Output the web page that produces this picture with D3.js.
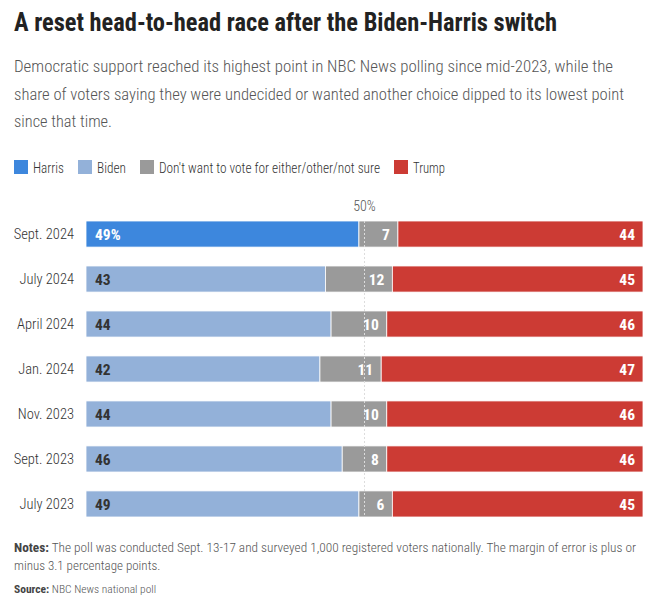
<!DOCTYPE html>
<html>
<head>
<meta charset="utf-8">
<script src="https://cdn.jsdelivr.net/npm/d3@7"></script>
<style>
  body { margin: 0; background: #fff; }
  svg text { font-family: "Roboto Condensed", "Liberation Sans Narrow", "DejaVu Sans Condensed", sans-serif; }
</style>
</head>
<body>
<svg id="chart" width="650" height="606"></svg>
<script>
"use strict";

var polls = ["Sept. 2024", "July 2024", "April 2024", "Jan. 2024", "Nov. 2023", "Sept. 2023", "July 2023"];
var democrat = [49, 43, 44, 42, 44, 46, 49];
var democratName = ["Harris", "Biden", "Biden", "Biden", "Biden", "Biden", "Biden"];
var neither = [7, 12, 10, 11, 10, 8, 6];
var trump = [44, 45, 46, 47, 46, 46, 45];
var legendNames = ["Harris", "Biden", "Don't want to vote for either/other/not sure", "Trump"];

var colors = {
  Harris: "#3d87dd",
  Biden: "#93b1d9",
  neither: "#9a9a9a",
  Trump: "#cc3b34"
};

var svg = d3.select("#chart");

// heading (text widths pinned to the narrower original face)
svg.append("text")
  .attr("x", 14).attr("y", 31)
  .attr("font-size", 25).attr("font-weight", "bold").attr("fill", "#222")
  .attr("textLength", 543).attr("lengthAdjust", "spacingAndGlyphs")
  .text("A reset head-to-head race after the Biden-Harris switch");

var subLines = [
  "Democratic support reached its highest point in NBC News polling since mid-2023, while the",
  "share of voters saying they were undecided or wanted another choice dipped to its lowest point",
  "since that time."
];
var subWidths = [599, 610, 98];
svg.append("g").selectAll("text").data(subLines).enter()
  .append("text")
  .attr("x", 14)
  .attr("y", function(d, i) { return 72 + i * 27.5; })
  .attr("font-size", 16.5).attr("font-weight", 300).attr("fill", "#555")
  .attr("textLength", function(d, i) { return subWidths[i]; })
  .attr("lengthAdjust", "spacingAndGlyphs")
  .text(function(d) { return d; });

// legend
var legendColors = [colors.Harris, colors.Biden, colors.neither, colors.Trump];
var legendWidths = [31, 29, 221, 32];
var lx = 14;
var legend = svg.append("g");
legendNames.forEach(function(name, i) {
  legend.append("rect")
    .attr("x", lx).attr("y", 160).attr("width", 14).attr("height", 14)
    .attr("fill", legendColors[i]);
  legend.append("text")
    .attr("x", lx + 19).attr("y", 172.5)
    .attr("font-size", 14.5).attr("font-weight", 300).attr("fill", "#333")
    .attr("textLength", legendWidths[i]).attr("lengthAdjust", "spacingAndGlyphs")
    .text(name);
  lx += 19 + legendWidths[i] + 14;
});

// bars
var x = d3.scaleLinear().domain([0, 100]).range([86, 643]);
var y = d3.scaleBand().domain(polls).range([212, 526]).paddingInner(0.42).paddingOuter(0.2);

var rows = polls.map(function(p, i) {
  return {
    poll: p,
    segs: [
      { key: democratName[i], x0: 0, x1: democrat[i], v: democrat[i] },
      { key: "neither", x0: democrat[i], x1: democrat[i] + neither[i], v: neither[i] },
      { key: "Trump", x0: democrat[i] + neither[i], x1: 100, v: trump[i] }
    ]
  };
});

var row = svg.append("g").selectAll("g").data(rows).enter()
  .append("g")
  .attr("transform", function(d) { return "translate(0," + y(d.poll) + ")"; });

row.selectAll("rect").data(function(d) { return d.segs; }).enter()
  .append("rect")
  .attr("x", function(d) { return x(d.x0); })
  .attr("width", function(d) { return x(d.x1) - x(d.x0); })
  .attr("height", y.bandwidth())
  .attr("fill", function(d) { return colors[d.key]; })
  .attr("stroke", "#fff").attr("stroke-width", 0.8);

row.append("text")
  .attr("x", 74).attr("y", y.bandwidth() / 2).attr("dy", "0.35em")
  .attr("text-anchor", "end").attr("font-size", 14.5).attr("font-weight", 300).attr("fill", "#333")
  .text(function(d) { return d.poll; });

// 50% marker
svg.append("line")
  .attr("x1", x(50)).attr("x2", x(50))
  .attr("y1", y(polls[0])).attr("y2", y(polls[polls.length - 1]) + y.bandwidth())
  .attr("stroke", "#ddd").attr("stroke-width", 1).attr("stroke-dasharray", "2,2");

svg.append("text")
  .attr("x", x(50)).attr("y", 211)
  .attr("text-anchor", "middle").attr("font-size", 14).attr("font-weight", 300).attr("fill", "#555")
  .text("50%");

// value labels, drawn over the marker
var labels = svg.append("g").selectAll("g").data(rows).enter()
  .append("g")
  .attr("transform", function(d) { return "translate(0," + y(d.poll) + ")"; });

labels.selectAll("text").data(function(d) { return d.segs; }).enter()
  .append("text")
  .attr("x", function(d, i) { return i === 0 ? x(d.x0) + 9 : x(d.x1) - 8; })
  .attr("y", y.bandwidth() / 2).attr("dy", "0.36em")
  .attr("text-anchor", function(d, i) { return i === 0 ? "start" : "end"; })
  .attr("font-size", 15.5).attr("font-weight", "bold")
  .attr("fill", function(d) { return d.key === "Biden" ? "#333" : "#fff"; })
  .text(function(d) { return d.key === "Harris" ? d.v + "%" : d.v; });

// notes
var notes = svg.append("g").attr("font-size", 13).attr("fill", "#555");
var n1 = notes.append("text").attr("x", 14).attr("y", 552)
  .attr("textLength", 622).attr("lengthAdjust", "spacingAndGlyphs");
n1.append("tspan").attr("font-weight", "bold").attr("fill", "#444").text("Notes:");
n1.append("tspan").attr("font-weight", 300).text(" The poll was conducted Sept. 13-17 and surveyed 1,000 registered voters nationally. The margin of error is plus or");
notes.append("text").attr("x", 14).attr("y", 570).attr("font-weight", 300).text("minus 3.1 percentage points.");
var n3 = notes.append("text").attr("x", 14).attr("y", 593).attr("font-size", 11.5);
n3.append("tspan").attr("font-weight", "bold").attr("fill", "#444").text("Source:");
n3.append("tspan").attr("font-weight", 300).text(" NBC News national poll");
</script>
</body>
</html>
